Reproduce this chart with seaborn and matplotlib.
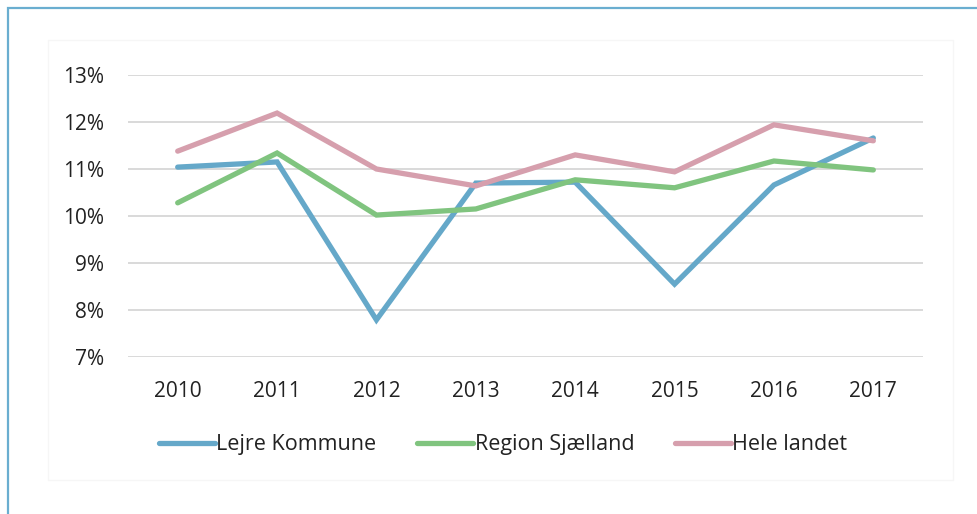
import pandas as pd
import matplotlib.pyplot as plt
import seaborn as sns
from matplotlib.patches import Rectangle

# values (percent)
years = ["2010", "2011", "2012", "2013", "2014", "2015", "2016", "2017"]
lejre = [11.04, 11.15, 7.79, 10.70, 10.72, 8.55, 10.66, 11.66]
region = [10.28, 11.34, 10.02, 10.15, 10.77, 10.60, 11.17, 10.98]
hele = [11.38, 12.19, 11.00, 10.64, 11.30, 10.94, 11.94, 11.60]
series = ["Lejre Kommune", "Region Sjælland", "Hele landet"]
colors = ["#65a8c9", "#80c47f", "#d69fad"]
yticks = [7, 8, 9, 10, 11, 12, 13]

df = pd.DataFrame({
    "year": years * 3,
    "value": lejre + region + hele,
    "series": [series[0]] * 8 + [series[1]] * 8 + [series[2]] * 8,
})
df["x"] = df["year"].map({y: i for i, y in enumerate(years)})

sns.set_style("white")
plt.rcParams["font.family"] = ["Open Sans", "DejaVu Sans"]

fig = plt.figure(figsize=(9.78, 5.14), dpi=100)
ax = fig.add_axes([128 / 978, 1 - 357 / 514, 795 / 978, 282 / 514])

# outer frame and faint inner chart box
fig.patches.append(Rectangle((8 / 978, -0.05), 1.1, 1 - 8 / 514 + 0.05,
                             transform=fig.transFigure, fill=False,
                             edgecolor="#6aaed0", linewidth=1.6))
fig.patches.append(Rectangle((48 / 978, 34 / 514), 905 / 978, 440 / 514,
                             transform=fig.transFigure, fill=False,
                             edgecolor="#f6f6f6", linewidth=1.0))

sns.lineplot(data=df, x="x", y="value", hue="series", hue_order=series,
             palette=colors, linewidth=3.8, ax=ax, sort=False)
for line in ax.get_lines():
    line.set_solid_capstyle("round")
    line.set_solid_joinstyle("miter")

ax.set_xlim(-0.5, 7.5)
ax.set_ylim(7, 13)
ax.set_yticks(yticks)
ax.set_yticklabels([f"{t}%" for t in yticks])
ax.set_xticks(range(len(years)))
ax.set_xticklabels(years)
ax.yaxis.grid(True, color="#d9d9d9", linewidth=1.4)
ax.set_axisbelow(True)
for s in ax.spines.values():
    s.set_visible(False)
ax.tick_params(axis="y", length=0, pad=17, labelsize=15, labelcolor="#222222")
ax.tick_params(axis="x", length=0, pad=17, labelsize=15, labelcolor="#222222")
ax.set_xlabel("")
ax.set_ylabel("")

ax.legend(loc="upper center", bbox_to_anchor=(0.5 - 0.028, -0.205), ncol=3,
          frameon=False, fontsize=15.5, handlelength=2.6, handletextpad=0.05,
          columnspacing=1.9, labelcolor="#222222")

fig.savefig("out.png", dpi=100)
